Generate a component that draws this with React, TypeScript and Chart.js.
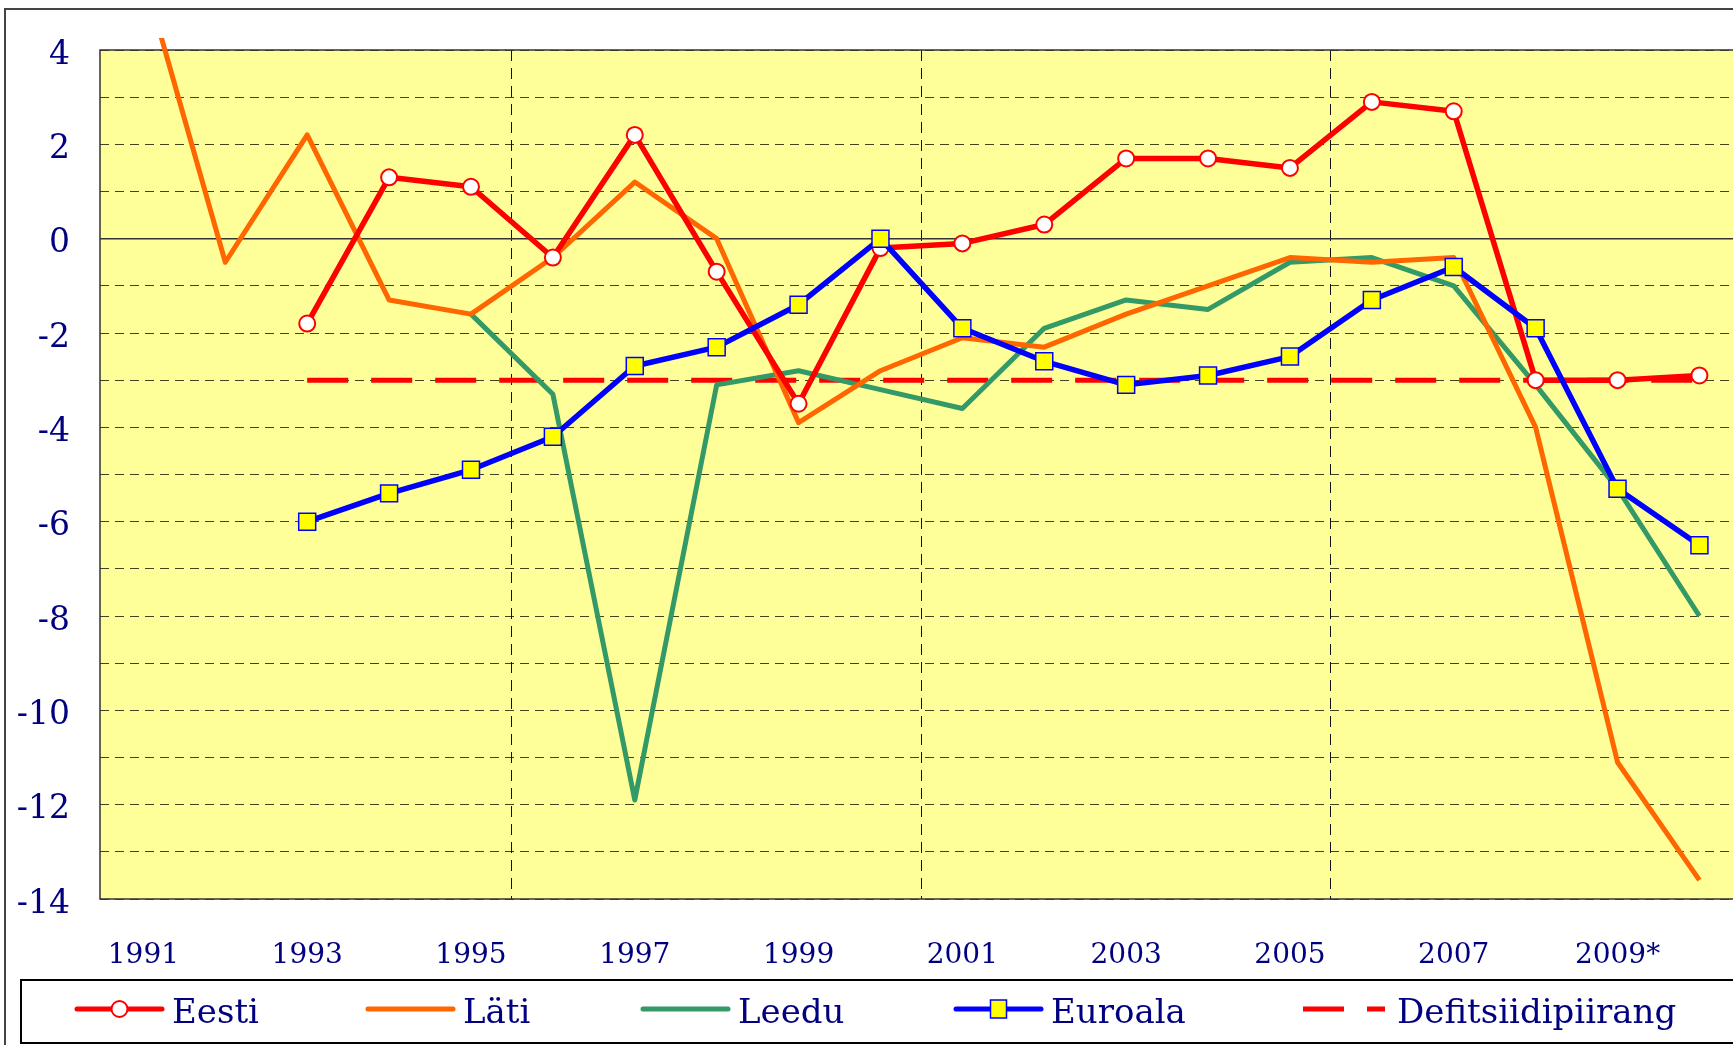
import React, { useEffect, useRef } from 'react';
import { Chart, registerables } from 'chart.js';

Chart.register(...registerables);

// ---- data ----
const years = [1991, 1992, 1993, 1994, 1995, 1996, 1997, 1998, 1999, 2000, 2001, 2002, 2003, 2004, 2005, 2006, 2007, 2008, 2009, 2010];
const eesti = [null, null, -1.8, 1.3, 1.1, -0.4, 2.2, -0.7, -3.5, -0.2, -0.1, 0.3, 1.7, 1.7, 1.5, 2.9, 2.7, -3.0, -3.0, -2.9];
const lati = [5.6, -0.5, 2.2, -1.3, -1.6, -0.4, 1.2, 0.0, -3.9, -2.8, -2.1, -2.3, -1.6, -1.0, -0.4, -0.5, -0.4, -4.0, -11.1, -13.6];
const leedu = [null, null, null, null, -1.6, -3.3, -11.9, -3.1, -2.8, -3.2, -3.6, -1.9, -1.3, -1.5, -0.5, -0.4, -1.0, -3.1, -5.3, -8.0];
const euroala = [null, null, -6.0, -5.4, -4.9, -4.2, -2.7, -2.3, -1.4, 0.0, -1.9, -2.6, -3.1, -2.9, -2.5, -1.3, -0.6, -1.9, -5.3, -6.5];
const defitsiit = [null, null, -3, -3, -3, -3, -3, -3, -3, -3, -3, -3, -3, -3, -3, -3, -3, -3, -3, -3];

const seriesNames = ['Eesti', 'Läti', 'Leedu', 'Euroala', 'Defitsiidipiirang'];

const xLabelYears = [1991, 1993, 1995, 1997, 1999, 2001, 2003, 2005, 2007, 2009];
const xLabels = ['1991', '1993', '1995', '1997', '1999', '2001', '2003', '2005', '2007', '2009*'];
const xSeparators = [1995.5, 2000.5, 2005.5];
const yGridValues = [4, 3, 2, 1, 0, -1, -2, -3, -4, -5, -6, -7, -8, -9, -10, -11, -12, -13, -14];
const yLabelValues = [4, 2, 0, -2, -4, -6, -8, -10, -12, -14];

const NAVY = '#000080';

const toPoints = (arr: (number | null)[]) => years.map((y, i) => ({ x: y, y: arr[i] }));

const legendLayout = [
  { lineStart: 77, kind: 'circle' },
  { lineStart: 368, kind: 'line' },
  { lineStart: 643, kind: 'line' },
  { lineStart: 956, kind: 'square' },
  { lineStart: 1303, kind: 'dash' },
];

const decorPlugin = {
  id: 'decor',
  beforeDraw(chart: any) {
    const { ctx, chartArea: a } = chart;
    ctx.save();
    ctx.fillStyle = '#ffffff';
    ctx.fillRect(0, 0, chart.width, chart.height);
    ctx.fillStyle = '#FFFF99';
    ctx.fillRect(a.left, a.top, chart.width - a.left + 5, a.bottom - a.top);
    ctx.restore();
  },
  beforeDatasetsDraw(chart: any) {
    const { ctx, chartArea: a } = chart;
    ctx.save();
    ctx.strokeStyle = '#333333';
    ctx.lineWidth = 1.5;
    ctx.beginPath();
    ctx.moveTo(chart.width + 5, a.top);
    ctx.lineTo(a.left, a.top);
    ctx.lineTo(a.left, a.bottom);
    ctx.lineTo(chart.width + 5, a.bottom);
    ctx.stroke();
    ctx.restore();
  },
  afterDraw(chart: any) {
    const { ctx } = chart;
    ctx.save();
    // outer frame
    ctx.strokeStyle = '#444444';
    ctx.lineWidth = 2;
    ctx.strokeRect(5, 9, chart.width + 20, chart.height + 20);
    // legend box
    ctx.strokeStyle = '#000000';
    ctx.lineWidth = 2;
    ctx.strokeRect(21, 980, chart.width + 20, 63);
    const cy = 1009;
    ctx.font = '34px "DejaVu Serif"';
    ctx.textBaseline = 'alphabetic';
    chart.data.datasets.forEach((ds: any, i: number) => {
      const L = legendLayout[i];
      const x0 = L.lineStart;
      const x1 = x0 + 85;
      ctx.strokeStyle = ds.borderColor;
      ctx.lineWidth = 5;
      if (L.kind === 'dash') {
        ctx.lineCap = 'butt';
        ctx.beginPath();
        ctx.moveTo(x0, cy);
        ctx.lineTo(x0 + 41, cy);
        ctx.moveTo(x0 + 64, cy);
        ctx.lineTo(x0 + 82, cy);
        ctx.stroke();
      } else {
        ctx.lineCap = 'round';
        ctx.beginPath();
        ctx.moveTo(x0, cy);
        ctx.lineTo(x1, cy);
        ctx.stroke();
      }
      const mx = (x0 + x1) / 2;
      if (L.kind === 'circle') {
        ctx.beginPath();
        ctx.arc(mx, cy, 8, 0, Math.PI * 2);
        ctx.fillStyle = '#ffffff';
        ctx.fill();
        ctx.lineWidth = 2;
        ctx.strokeStyle = ds.borderColor;
        ctx.stroke();
      } else if (L.kind === 'square') {
        ctx.fillStyle = '#FFFF00';
        ctx.fillRect(mx - 8, cy - 9, 16, 18);
        ctx.lineWidth = 1.5;
        ctx.strokeStyle = ds.borderColor;
        ctx.strokeRect(mx - 8, cy - 9, 16, 18);
      }
      ctx.fillStyle = NAVY;
      ctx.fillText(ds.label, L.kind === 'dash' ? x0 + 94 : x1 + 10, 1023);
    });
    ctx.restore();
  },
};

export default function App() {
  const ref = useRef<HTMLCanvasElement | null>(null);

  useEffect(() => {
    document.body.style.margin = '0';
    document.documentElement.style.overflow = 'hidden';
    if (!ref.current) return;
    const chart = new Chart(ref.current, {
      type: 'line',
      data: {
        datasets: [
          {
            label: seriesNames[0],
            data: toPoints(eesti),
            borderColor: '#FF0000',
            borderWidth: 5.5,
            pointStyle: 'circle',
            pointRadius: 8,
            pointBackgroundColor: '#ffffff',
            pointBorderColor: '#FF0000',
            pointBorderWidth: 2,
            order: 1,
          },
          {
            label: seriesNames[1],
            data: toPoints(lati),
            borderColor: '#FF6600',
            borderWidth: 5,
            pointRadius: 0,
            order: 2,
            clip: { left: 0, top: 12, right: 0, bottom: 0 },
          },
          {
            label: seriesNames[2],
            data: toPoints(leedu),
            borderColor: '#339966',
            borderWidth: 5,
            pointRadius: 0,
            order: 3,
          },
          {
            label: seriesNames[3],
            data: toPoints(euroala),
            borderColor: '#0000FF',
            borderWidth: 5.5,
            pointStyle: 'rect',
            pointRadius: 12,
            pointBackgroundColor: '#FFFF00',
            pointBorderColor: '#0000FF',
            pointBorderWidth: 1.5,
            order: 0,
          },
          {
            label: seriesNames[4],
            data: toPoints(defitsiit),
            borderColor: '#FF0000',
            borderWidth: 5,
            borderDash: [41, 23],
            borderCapStyle: 'butt',
            pointRadius: 0,
            order: 4,
          },
        ] as any,
      },
      options: {
        animation: false,
        responsive: false,
        maintainAspectRatio: false,
        layout: { autoPadding: false, padding: { top: 50, left: 0, right: 0, bottom: 66 } },
        plugins: {
          legend: { display: false },
          tooltip: { enabled: false },
        },
        elements: { line: { tension: 0, borderJoinStyle: 'round' } },
        scales: {
          x: {
            type: 'linear',
            min: 1990.47,
            max: 2010.41,
            afterBuildTicks: (scale: any) => {
              scale.ticks = [...xLabelYears, ...xSeparators].sort((p, q) => p - q).map((v) => ({ value: v }));
            },
            afterFit: (scale: any) => {
              scale.height = 80;
            },
            ticks: {
              autoSkip: false,
              maxRotation: 0,
              minRotation: 0,
              padding: 40,
              color: NAVY,
              font: { family: '"DejaVu Serif"', size: 28 },
              callback: (v: any) => {
                const i = xLabelYears.indexOf(Number(v));
                return i >= 0 ? xLabels[i] : '';
              },
            },
            grid: {
              drawTicks: false,
              color: (ctx: any) => (ctx.tick && xSeparators.includes(ctx.tick.value) ? '#111111' : 'rgba(0,0,0,0)'),
              lineWidth: 1,
            },
            border: { display: false, dash: [11, 7] },
          },
          y: {
            min: -14,
            max: 4,
            afterBuildTicks: (scale: any) => {
              scale.ticks = yGridValues.map((v) => ({ value: v }));
            },
            afterFit: (scale: any) => {
              scale.width = 100;
            },
            ticks: {
              padding: 30,
              labelOffset: 5,
              color: NAVY,
              font: { family: '"DejaVu Serif"', size: 33 },
              callback: (v: any) => (yLabelValues.includes(Number(v)) ? String(v) : ''),
            },
            grid: {
              drawTicks: false,
              color: (ctx: any) => (ctx.tick && ctx.tick.value === 0 ? '#333333' : 'rgba(20,20,0,0.8)'),
              lineWidth: (ctx: any) => (ctx.tick && ctx.tick.value === 0 ? 1.5 : 1),
            },
            border: {
              display: false,
              dash: (ctx: any) => (ctx.tick && ctx.tick.value === 0 ? [] : [9, 6]),
            },
          },
        },
      },
      plugins: [decorPlugin],
    } as any);
    return () => chart.destroy();
  }, []);

  return (
    <div style={{ position: 'absolute', left: 0, top: 0, width: 1733, height: 1045, overflow: 'hidden' }}>
      <canvas ref={ref} width={1733} height={1045} style={{ display: 'block' }} />
    </div>
  );
}
